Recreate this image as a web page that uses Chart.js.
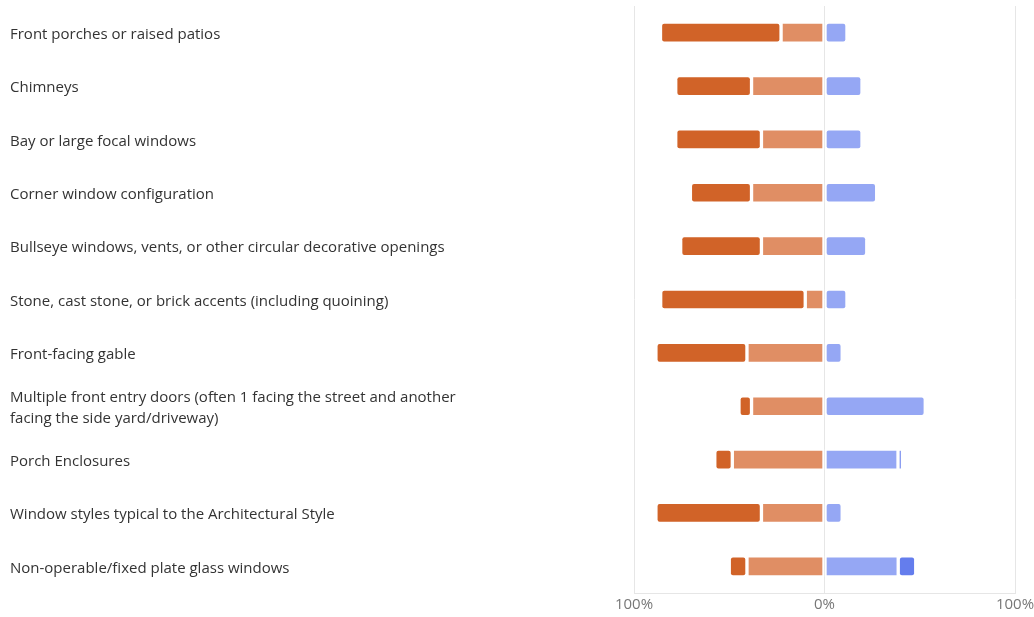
<!DOCTYPE html>
<html>
<head>
<meta charset="utf-8">
<script src="https://cdn.jsdelivr.net/npm/chart.js@4"></script>
<style>
  html, body { margin: 0; padding: 0; background: #fff; }
  #wrap { width: 1034px; height: 617px; position: relative; }
</style>
</head>
<body>
<div id="wrap"><canvas id="chart"></canvas></div>
<script>
// features rated
const features = [
    'Front porches or raised patios',
    'Chimneys',
    'Bay or large focal windows',
    'Corner window configuration',
    'Bullseye windows, vents, or other circular decorative openings',
    'Stone, cast stone, or brick accents (including quoining)',
    'Front-facing gable',
    ['Multiple front entry doors (often 1 facing the street and another', 'facing the side yard/driveway)'],
    'Porch Enclosures',
    'Window styles typical to the Architectural Style',
    'Non-operable/fixed plate glass windows'
];

// percentages
const stronglyNeg = [63.3, 39.8, 45.0, 32.1, 42.4, 75.9, 47.8, 6.6, 9.2, 55.4, 9.3];
const somewhatNeg = [22.8, 38.3, 33.1, 38.3, 33.1, 10.1, 40.7, 38.3, 48.4, 33.1, 40.7];
const somewhatPos = [11.8, 19.7, 19.7, 27.4, 22.2, 11.8, 9.3, 52.9, 38.6, 9.3, 38.7];
const stronglyPos = [0, 0, 0, 0, 0, 0, 0, 0, 2.3, 0, 9.2];

const xTicks = [-100, 0, 100];

function neg(arr) { return arr.map(v => -v); }

function barSet(label, data, color) {
    return {
        label: label,
        data: data,
        backgroundColor: color,
        borderColor: '#ffffff',
        borderWidth: 2,
        borderRadius: 4,
        borderSkipped: false,
        barThickness: 21
    };
}

const ctx = document.getElementById('chart').getContext('2d');
new Chart(ctx, {
    type: 'bar',
    data: {
        labels: features,
        datasets: [
            barSet('Somewhat negative', neg(somewhatNeg), 'rgb(224, 142, 100)'),
            barSet('Strongly negative', neg(stronglyNeg), 'rgb(209, 99, 40)'),
            barSet('Somewhat positive', somewhatPos, 'rgb(149, 167, 244)'),
            barSet('Strongly positive', stronglyPos, 'rgb(100, 125, 237)')
        ]
    },
    options: {
        indexAxis: 'y',
        responsive: true,
        maintainAspectRatio: false,
        animation: false,
        layout: { padding: { left: 10, top: 6, right: 0, bottom: 0 } },
        plugins: {
            legend: { display: false },
            tooltip: { enabled: false }
        },
        scales: {
            x: {
                stacked: true,
                min: -100,
                max: 100,
                afterBuildTicks: scale => { scale.ticks = xTicks.map(v => ({ value: v })); },
                afterFit: scale => {
                    scale.paddingLeft = 0;
                    scale.paddingRight = 19;
                },
                ticks: {
                    color: '#777',
                    font: { family: '"Open Sans", "Noto Sans", sans-serif', size: 15 },
                    padding: 3,
                    maxRotation: 0,
                    callback: v => Math.abs(v) + '%'
                },
                grid: { color: '#e6e6e6', drawTicks: false },
                border: { color: '#e6e6e6' }
            },
            y: {
                stacked: true,
                afterFit: scale => {
                    scale.width = 624;
                    scale.paddingTop = 0;
                    scale.paddingBottom = 0;
                },
                ticks: {
                    crossAlign: 'far',
                    labelOffset: 2,
                    color: '#333',
                    font: { family: '"Open Sans", "Noto Sans", sans-serif', size: 15, lineHeight: 1.45 }
                },
                grid: { display: false },
                border: { display: false }
            }
        }
    }
});
</script>
</body>
</html>
